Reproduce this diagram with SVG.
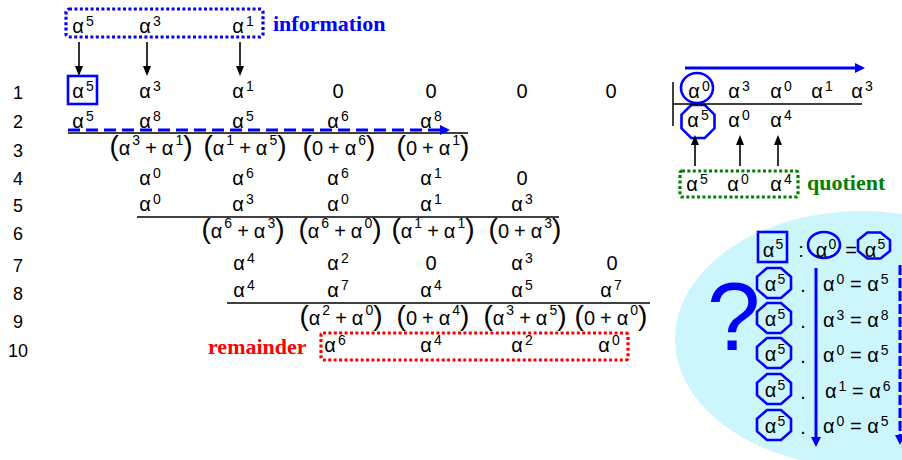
<svg xmlns="http://www.w3.org/2000/svg" width="902" height="460" viewBox="0 0 902 460">
  <style>
    text { font-family: "Liberation Sans", Arial, sans-serif; fill: #000; }
    .m { font-size: 20px; text-anchor: middle; }
    .ms { font-size: 20px; }
    .s { font-size: 14px; }
    .p { font-size: 28px; }
    .lbl { font-size: 18px; text-anchor: middle; }
    .t { font-family: "Liberation Serif", "Times New Roman", serif; font-weight: bold; font-size: 22px; }
    .blue { fill: #0000ff; }
    .red { fill: #ff0000; }
    .green { fill: #008000; }
    .rule { stroke: #000; stroke-width: 1.5; fill: none; }
    .karrow { stroke: #000; stroke-width: 1.6; fill: none; marker-end: url(#headK); }
    .barrow { stroke: #0000ff; stroke-width: 3; fill: none; marker-end: url(#headB); }
    .dotbox { fill: none; stroke-width: 3.2; stroke-dasharray: 3 2.4; }
    .ring { fill: none; stroke: #0000ff; stroke-width: 2.6; }
  </style>
  <defs>
    <marker id="headK" viewBox="0 0 10 8" markerWidth="10" markerHeight="8" refX="8" refY="4" orient="auto" markerUnits="userSpaceOnUse">
      <path d="M0,0 L10,4 L0,8 z" fill="#000"/>
    </marker>
    <marker id="headB" viewBox="0 0 10 10" markerWidth="10" markerHeight="10" refX="7" refY="5" orient="auto" markerUnits="userSpaceOnUse">
      <path d="M0,0 L10,5 L0,10 z" fill="#0000ff"/>
    </marker>
  </defs>

  <!-- background bubble for the multiplication hint -->
  <ellipse id="hint-bubble" cx="862" cy="339" rx="187" ry="128" fill="#ccf6fc"/>

  <!-- row numbers -->
  <g id="row-labels" class="lbl">
    <text class="lbl" x="18" y="99">1</text>
    <text class="lbl" x="18" y="128">2</text>
    <text class="lbl" x="18" y="157">3</text>
    <text class="lbl" x="18" y="185">4</text>
    <text class="lbl" x="18" y="212">5</text>
    <text class="lbl" x="18" y="240">6</text>
    <text class="lbl" x="18" y="272">7</text>
    <text class="lbl" x="18" y="300">8</text>
    <text class="lbl" x="18" y="328">9</text>
    <text class="lbl" x="18" y="357">10</text>
  </g>

  <!-- information symbols -->
  <g id="information">
    <rect x="66" y="9" width="197" height="28" rx="3" class="dotbox" stroke="#0000ff"/>
    <text class="m" x="83" y="33">α<tspan class="s" dx="2" dy="-7">5</tspan></text>
    <text class="m" x="150" y="33">α<tspan class="s" dx="2" dy="-7">3</tspan></text>
    <text class="m" x="243" y="33">α<tspan class="s" dx="2" dy="-7">1</tspan></text>
    <text class="t blue" x="273" y="31">information</text>
  </g>

  <!-- dividend -->
  <g id="row1">
    <rect x="68" y="76" width="29" height="28" fill="none" stroke="#0000ff" stroke-width="2.6"/>
    <text class="m" x="83" y="98">α<tspan class="s" dx="2" dy="-7">5</tspan></text>
    <text class="m" x="150" y="98">α<tspan class="s" dx="2" dy="-7">3</tspan></text>
    <text class="m" x="243" y="98">α<tspan class="s" dx="2" dy="-7">1</tspan></text>
    <text class="m" x="338" y="98">0</text>
    <text class="m" x="431" y="98">0</text>
    <text class="m" x="522" y="98">0</text>
    <text class="m" x="611" y="98">0</text>
  </g>

  <g id="row2">
    <text class="m" x="83" y="128">α<tspan class="s" dx="2" dy="-7">5</tspan></text>
    <text class="m" x="150" y="128">α<tspan class="s" dx="2" dy="-7">8</tspan></text>
    <text class="m" x="243" y="128">α<tspan class="s" dx="2" dy="-7">5</tspan></text>
    <text class="m" x="338" y="128">α<tspan class="s" dx="2" dy="-7">6</tspan></text>
    <text class="m" x="431" y="128">α<tspan class="s" dx="2" dy="-7">8</tspan></text>
  </g>

  <g id="row3">
    <text class="m" x="151" y="155"><tspan class="p">(</tspan>α<tspan class="s" dx="2" dy="-10">3</tspan><tspan dx="5" dy="10">+</tspan><tspan dx="5">α</tspan><tspan class="s" dx="2" dy="-10">1</tspan><tspan class="p" dy="10">)</tspan></text>
    <text class="m" x="245" y="155"><tspan class="p">(</tspan>α<tspan class="s" dx="2" dy="-10">1</tspan><tspan dx="5" dy="10">+</tspan><tspan dx="5">α</tspan><tspan class="s" dx="2" dy="-10">5</tspan><tspan class="p" dy="10">)</tspan></text>
    <text class="m" x="339" y="155"><tspan class="p">(</tspan>0<tspan dx="5">+</tspan><tspan dx="5">α</tspan><tspan class="s" dx="2" dy="-10">6</tspan><tspan class="p" dy="10">)</tspan></text>
    <text class="m" x="433" y="155"><tspan class="p">(</tspan>0<tspan dx="5">+</tspan><tspan dx="5">α</tspan><tspan class="s" dx="2" dy="-10">1</tspan><tspan class="p" dy="10">)</tspan></text>
  </g>

  <g id="row4">
    <text class="m" x="150" y="185">α<tspan class="s" dx="2" dy="-7">0</tspan></text>
    <text class="m" x="243" y="185">α<tspan class="s" dx="2" dy="-7">6</tspan></text>
    <text class="m" x="338" y="185">α<tspan class="s" dx="2" dy="-7">6</tspan></text>
    <text class="m" x="431" y="185">α<tspan class="s" dx="2" dy="-7">1</tspan></text>
    <text class="m" x="522" y="185">0</text>
  </g>

  <g id="row5">
    <text class="m" x="150" y="211">α<tspan class="s" dx="2" dy="-7">0</tspan></text>
    <text class="m" x="243" y="211">α<tspan class="s" dx="2" dy="-7">3</tspan></text>
    <text class="m" x="338" y="211">α<tspan class="s" dx="2" dy="-7">0</tspan></text>
    <text class="m" x="431" y="211">α<tspan class="s" dx="2" dy="-7">1</tspan></text>
    <text class="m" x="522" y="211">α<tspan class="s" dx="2" dy="-7">3</tspan></text>
  </g>

  <g id="row6">
    <text class="m" x="243" y="238"><tspan class="p">(</tspan>α<tspan class="s" dx="2" dy="-10">6</tspan><tspan dx="5" dy="10">+</tspan><tspan dx="5">α</tspan><tspan class="s" dx="2" dy="-10">3</tspan><tspan class="p" dy="10">)</tspan></text>
    <text class="m" x="340" y="238"><tspan class="p">(</tspan>α<tspan class="s" dx="2" dy="-10">6</tspan><tspan dx="5" dy="10">+</tspan><tspan dx="5">α</tspan><tspan class="s" dx="2" dy="-10">0</tspan><tspan class="p" dy="10">)</tspan></text>
    <text class="m" x="433" y="238"><tspan class="p">(</tspan>α<tspan class="s" dx="2" dy="-10">1</tspan><tspan dx="5" dy="10">+</tspan><tspan dx="5">α</tspan><tspan class="s" dx="2" dy="-10">1</tspan><tspan class="p" dy="10">)</tspan></text>
    <text class="m" x="525" y="238"><tspan class="p">(</tspan>0<tspan dx="5">+</tspan><tspan dx="5">α</tspan><tspan class="s" dx="2" dy="-10">3</tspan><tspan class="p" dy="10">)</tspan></text>
  </g>

  <g id="row7">
    <text class="m" x="244" y="270">α<tspan class="s" dx="2" dy="-7">4</tspan></text>
    <text class="m" x="338" y="270">α<tspan class="s" dx="2" dy="-7">2</tspan></text>
    <text class="m" x="431" y="270">0</text>
    <text class="m" x="522" y="270">α<tspan class="s" dx="2" dy="-7">3</tspan></text>
    <text class="m" x="612" y="270">0</text>
  </g>

  <g id="row8">
    <text class="m" x="244" y="297">α<tspan class="s" dx="2" dy="-7">4</tspan></text>
    <text class="m" x="338" y="297">α<tspan class="s" dx="2" dy="-7">7</tspan></text>
    <text class="m" x="431" y="297">α<tspan class="s" dx="2" dy="-7">4</tspan></text>
    <text class="m" x="522" y="297">α<tspan class="s" dx="2" dy="-7">5</tspan></text>
    <text class="m" x="611" y="297">α<tspan class="s" dx="2" dy="-7">7</tspan></text>
  </g>

  <g id="row9">
    <text class="m" x="341" y="325"><tspan class="p">(</tspan>α<tspan class="s" dx="2" dy="-10">2</tspan><tspan dx="5" dy="10">+</tspan><tspan dx="5">α</tspan><tspan class="s" dx="2" dy="-10">0</tspan><tspan class="p" dy="10">)</tspan></text>
    <text class="m" x="433" y="325"><tspan class="p">(</tspan>0<tspan dx="5">+</tspan><tspan dx="5">α</tspan><tspan class="s" dx="2" dy="-10">4</tspan><tspan class="p" dy="10">)</tspan></text>
    <text class="m" x="525" y="325"><tspan class="p">(</tspan>α<tspan class="s" dx="2" dy="-10">3</tspan><tspan dx="5" dy="10">+</tspan><tspan dx="5">α</tspan><tspan class="s" dx="2" dy="-10">5</tspan><tspan class="p" dy="10">)</tspan></text>
    <text class="m" x="611" y="325"><tspan class="p">(</tspan>0<tspan dx="5">+</tspan><tspan dx="5">α</tspan><tspan class="s" dx="2" dy="-10">0</tspan><tspan class="p" dy="10">)</tspan></text>
  </g>

  <!-- remainder -->
  <g id="remainder">
    <text class="t red" x="208" y="354">remainder</text>
    <rect x="321" y="333" width="307" height="27" rx="2" class="dotbox" stroke="#ff0000"/>
    <text class="m" x="335" y="352">α<tspan class="s" dx="2" dy="-7">6</tspan></text>
    <text class="m" x="431" y="352">α<tspan class="s" dx="2" dy="-7">4</tspan></text>
    <text class="m" x="522" y="352">α<tspan class="s" dx="2" dy="-7">2</tspan></text>
    <text class="m" x="609" y="352">α<tspan class="s" dx="2" dy="-7">0</tspan></text>
  </g>

  <!-- divisor and partial quotient -->
  <g id="divisor">
    <ellipse cx="697" cy="88" rx="16" ry="15" class="ring"/>
    <text class="m" x="699" y="98">α<tspan class="s" dx="2" dy="-7">0</tspan></text>
    <text class="m" x="739" y="98">α<tspan class="s" dx="2" dy="-7">3</tspan></text>
    <text class="m" x="781" y="98">α<tspan class="s" dx="2" dy="-7">0</tspan></text>
    <text class="m" x="822" y="98">α<tspan class="s" dx="2" dy="-7">1</tspan></text>
    <text class="m" x="862" y="98">α<tspan class="s" dx="2" dy="-7">3</tspan></text>
  </g>
  <g id="quotient-row">
    <polygon class="ring" points="691.2,105 704.8,105 714.5,114.7 714.5,128.3 704.8,138 691.2,138 681.5,128.3 681.5,114.7"/>
    <text class="m" x="698" y="127">α<tspan class="s" dx="2" dy="-7">5</tspan></text>
    <text class="m" x="739" y="127">α<tspan class="s" dx="2" dy="-7">0</tspan></text>
    <text class="m" x="781" y="127">α<tspan class="s" dx="2" dy="-7">4</tspan></text>
  </g>
  <g id="quotient">
    <rect x="680" y="171" width="118" height="26" rx="2" class="dotbox" stroke="#008000"/>
    <text class="m" x="697" y="191">α<tspan class="s" dx="2" dy="-7">5</tspan></text>
    <text class="m" x="738" y="191">α<tspan class="s" dx="2" dy="-7">0</tspan></text>
    <text class="m" x="781" y="191">α<tspan class="s" dx="2" dy="-7">4</tspan></text>
    <text class="t green" x="807" y="190">quotient</text>
  </g>

  <!-- hint: leading term division and multiplication -->
  <g id="hint">
    <text x="707" y="350" font-size="96" class="blue">?</text>
    <rect x="758" y="232" width="29" height="30" fill="none" stroke="#0000ff" stroke-width="2.6"/>
    <text class="m" x="773" y="257">α<tspan class="s" dx="1" dy="-8">5</tspan></text>
    <text class="m" x="801" y="257">:</text>
    <ellipse cx="824" cy="245" rx="16" ry="13" class="ring"/>
    <text class="m" x="826" y="257">α<tspan class="s" dx="1" dy="-8">0</tspan></text>
    <text class="m" x="851" y="257">=</text>
    <polygon class="ring" points="867.4,232.5 880.6,232.5 890,240.1 890,250.9 880.6,258.5 867.4,258.5 858,250.9 858,240.1"/>
    <text class="m" x="875" y="257">α<tspan class="s" dx="1" dy="-8">5</tspan></text>
  </g>
  <g id="hint-products">
    <polygon class="ring" points="767,268 781,268 791,276.8 791,289.2 781,298 767,298 757,289.2 757,276.8"/>
    <polygon class="ring" points="767,303 781,303 791,311.8 791,324.2 781,333 767,333 757,324.2 757,311.8"/>
    <polygon class="ring" points="767,338 781,338 791,346.8 791,359.2 781,368 767,368 757,359.2 757,346.8"/>
    <polygon class="ring" points="767,374 781,374 791,382.8 791,395.2 781,404 767,404 757,395.2 757,382.8"/>
    <polygon class="ring" points="767,410 781,410 791,418.8 791,431.2 781,440 767,440 757,431.2 757,418.8"/>
    <text class="m" x="775" y="291">α<tspan class="s" dx="1" dy="-7">5</tspan></text>
    <text class="m" x="775" y="326">α<tspan class="s" dx="1" dy="-7">5</tspan></text>
    <text class="m" x="775" y="361">α<tspan class="s" dx="1" dy="-7">5</tspan></text>
    <text class="m" x="775" y="397">α<tspan class="s" dx="1" dy="-7">5</tspan></text>
    <text class="m" x="775" y="433">α<tspan class="s" dx="1" dy="-7">5</tspan></text>
    <text class="m" x="803" y="292">.</text>
    <text class="m" x="803" y="328">.</text>
    <text class="m" x="803" y="363">.</text>
    <text class="m" x="803" y="399">.</text>
    <text class="m" x="803" y="434">.</text>
    <text class="ms" x="823" y="291">α<tspan class="s" dx="2" dy="-7">0</tspan><tspan dy="7"> = α</tspan><tspan class="s" dx="2" dy="-7">5</tspan></text>
    <text class="ms" x="823" y="327">α<tspan class="s" dx="2" dy="-7">3</tspan><tspan dy="7"> = α</tspan><tspan class="s" dx="2" dy="-7">8</tspan></text>
    <text class="ms" x="823" y="362">α<tspan class="s" dx="2" dy="-7">0</tspan><tspan dy="7"> = α</tspan><tspan class="s" dx="2" dy="-7">5</tspan></text>
    <text class="ms" x="825" y="398">α<tspan class="s" dx="2" dy="-7">1</tspan><tspan dy="7"> = α</tspan><tspan class="s" dx="2" dy="-7">6</tspan></text>
    <text class="ms" x="823" y="433">α<tspan class="s" dx="2" dy="-7">0</tspan><tspan dy="7"> = α</tspan><tspan class="s" dx="2" dy="-7">5</tspan></text>
  </g>

  <!-- connectors and rules -->
  <g id="connectors">
    <line class="karrow" x1="79" y1="42" x2="79" y2="74"/>
    <line class="karrow" x1="147" y1="42" x2="147" y2="74"/>
    <line class="karrow" x1="240" y1="42" x2="240" y2="74"/>
    <line class="rule" x1="68" y1="133" x2="468" y2="133"/>
    <line class="barrow" x1="68" y1="130" x2="447" y2="130" stroke-dasharray="12 6"/>
    <line class="rule" x1="137" y1="217" x2="559" y2="217"/>
    <line class="rule" x1="227" y1="303" x2="650" y2="303"/>
    <line class="barrow" x1="685" y1="68" x2="862" y2="68"/>
    <line class="rule" x1="673" y1="82" x2="673" y2="126"/>
    <line class="rule" x1="673" y1="104" x2="862" y2="104"/>
    <line class="karrow" x1="695" y1="166" x2="695" y2="137"/>
    <line class="karrow" x1="740" y1="166" x2="740" y2="137"/>
    <line class="karrow" x1="778" y1="166" x2="778" y2="137"/>
    <line class="barrow" x1="816" y1="268" x2="816" y2="444" stroke-width="2.5"/>
    <line class="barrow" x1="900" y1="265" x2="900" y2="442" stroke-dasharray="10 3"/>
  </g>
</svg>
